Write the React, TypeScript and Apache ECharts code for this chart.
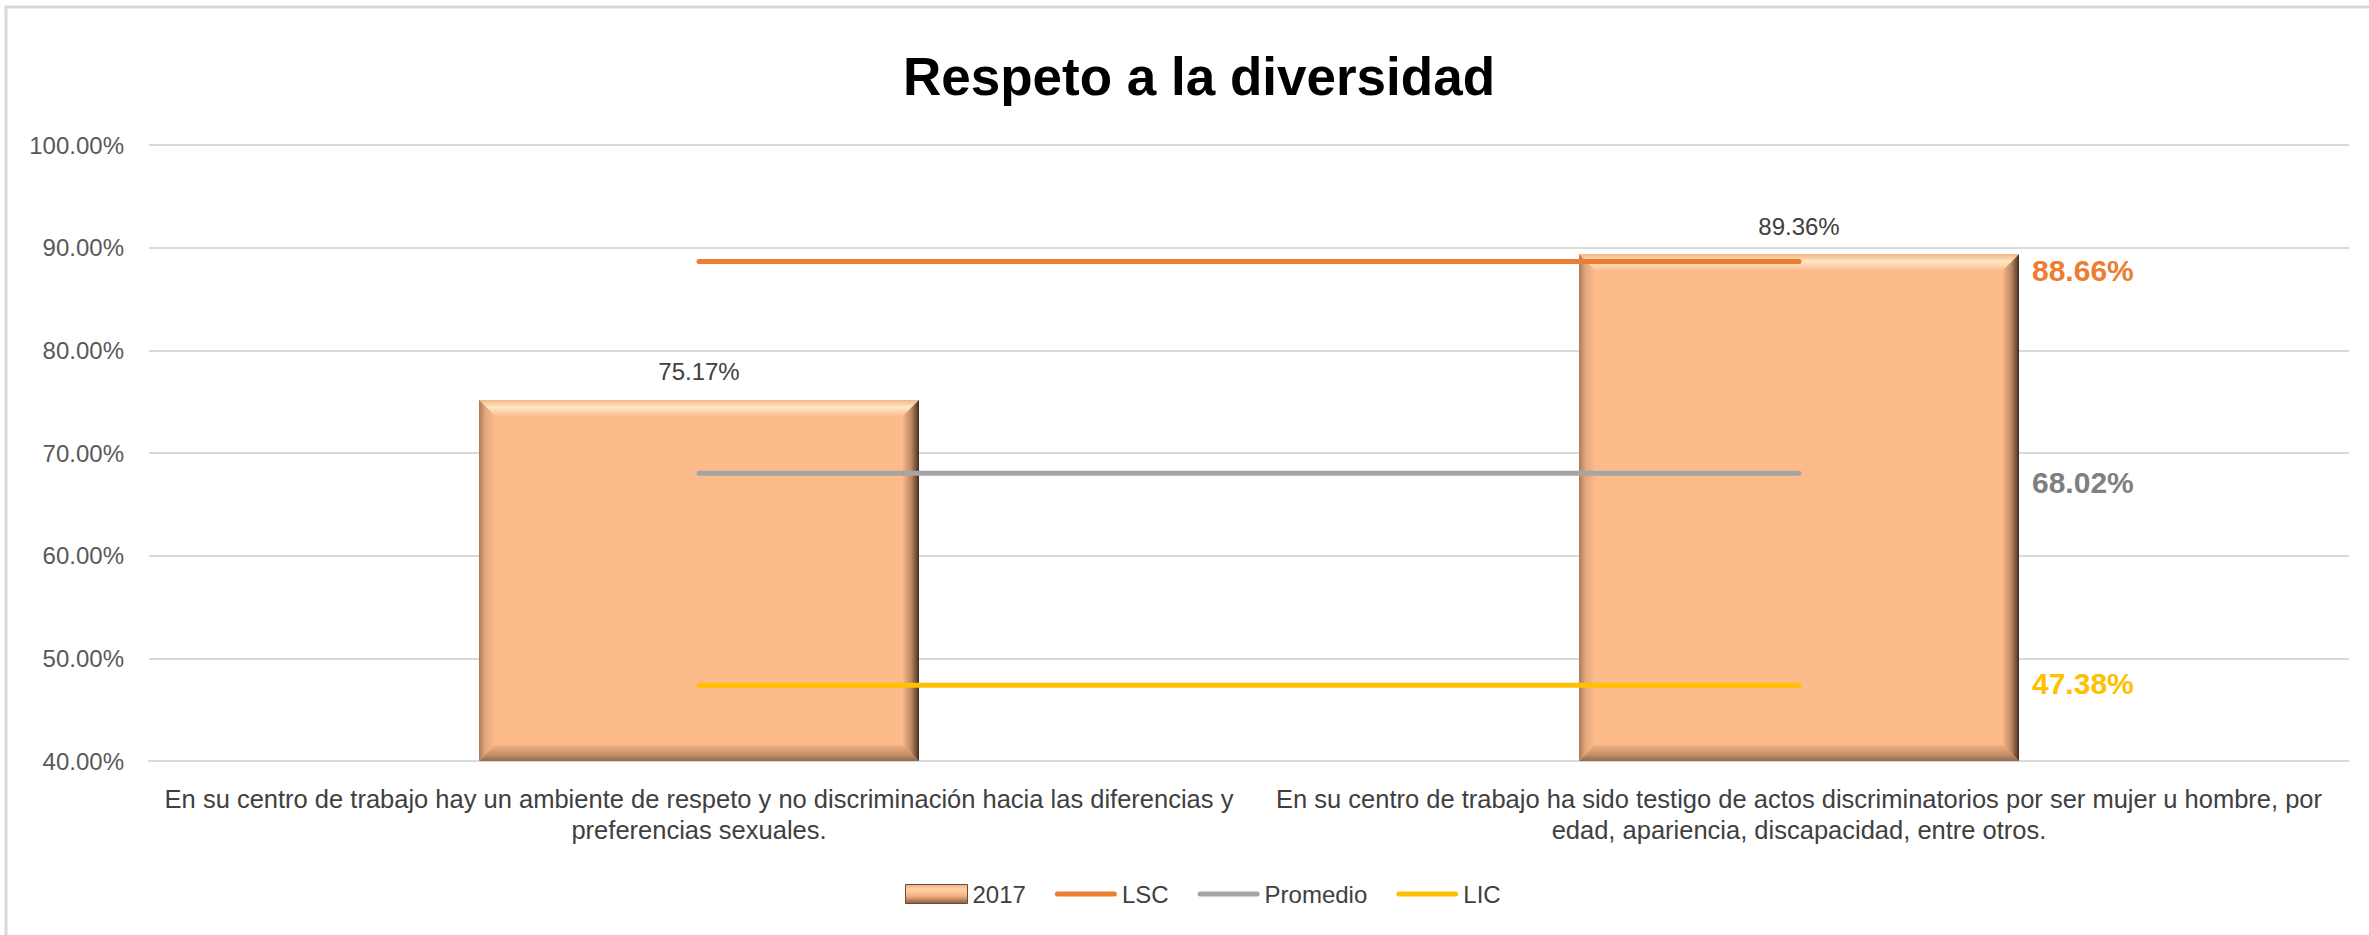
import React, { useEffect, useRef } from "react";
import * as echarts from "echarts";

const title = "Respeto a la diversidad";
const categories = [
  "En su centro de trabajo hay un ambiente de respeto y no discriminación hacia las diferencias y\npreferencias sexuales.",
  "En su centro de trabajo ha sido testigo de actos discriminatorios por ser mujer u hombre, por\nedad, apariencia, discapacidad, entre otros.",
];
const barName = "2017";
const barValues = [75.17, 89.36];
const lscValue = 88.66;
const promedioValue = 68.02;
const licValue = 47.38;
const yTicks = { min: 40, max: 100, interval: 10 };

const FONT = "'Liberation Sans', Arial, sans-serif";
const LINE_ICON = "path://M2.5,0 h57 a2.5,2.5 0 0 1 0,5 h-57 a2.5,2.5 0 0 1 0,-5 z";

export default function App() {
  const ref = useRef<HTMLDivElement>(null);
  useEffect(() => {
    if (!ref.current) return;
    const chart = echarts.init(ref.current, null, { renderer: "svg" });
    const LG = echarts.graphic.LinearGradient;
    const fmt = (v: number) => v.toFixed(2) + "%";

    const lineSeries = (
      name: string,
      value: number,
      color: string,
      labelColor: string,
      offsetY: number
    ) => ({
      name,
      type: "line",
      data: categories.map(() => value),
      symbol: "none",
      z: 5,
      lineStyle: { color, width: 5, cap: "round" },
      itemStyle: { color },
      endLabel: {
        show: true,
        formatter: () => fmt(value),
        distance: 233,
        offset: [0, offsetY],
        color: labelColor,
        fontSize: 30,
        fontWeight: "bold",
        fontFamily: FONT,
      },
    });

    chart.setOption({
      animation: false,
      backgroundColor: "#ffffff",
      textStyle: { fontFamily: FONT },
      title: {
        text: title,
        left: 1194,
        textAlign: "center",
        top: 45,
        textStyle: { fontSize: 53, fontWeight: "bold", color: "#000000", fontFamily: FONT },
      },
      graphic: [
        {
          type: "rect",
          shape: { x: 6, y: 7, width: 2500, height: 1100 },
          style: { fill: "none", stroke: "#D9D9D9", lineWidth: 3 },
          silent: true,
          z: -1,
        },
      ],
      grid: { left: 149, right: 20, top: 145, bottom: 174, containLabel: false },
      legend: {
        left: 900,
        top: 877,
        itemWidth: 62,
        itemHeight: 19,
        itemGap: 29,
        symbolKeepAspect: true,
        textStyle: { fontSize: 24, color: "#404040", fontFamily: FONT },
        data: [
          {
            name: barName,
            icon: "rect",
            itemStyle: {
              color: new LG(0, 0, 0, 1, [
                { offset: 0, color: "#E9AE82" },
                { offset: 0.25, color: "#FFD2A8" },
                { offset: 0.6, color: "#F5B184" },
                { offset: 1, color: "#8A5E40" },
              ]),
              borderColor: "#6E4A31",
              borderWidth: 1,
            },
          },
          { name: "LSC", icon: LINE_ICON, itemStyle: { color: "#ED7D31" } },
          { name: "Promedio", icon: LINE_ICON, itemStyle: { color: "#A5A5A5" } },
          { name: "LIC", icon: LINE_ICON, itemStyle: { color: "#FFC000" } },
        ],
      },
      xAxis: {
        type: "category",
        data: categories,
        axisLine: { show: true, lineStyle: { color: "#D9D9D9", width: 2 } },
        axisTick: { show: false },
        axisLabel: {
          margin: 22,
          fontSize: 25.5,
          lineHeight: 31,
          color: "#404040",
          fontFamily: FONT,
          interval: 0,
          align: "center",
        },
      },
      yAxis: {
        type: "value",
        min: yTicks.min,
        max: yTicks.max,
        interval: yTicks.interval,
        axisLine: { show: false },
        axisTick: { show: false },
        splitLine: { lineStyle: { color: "#D9D9D9", width: 2 } },
        axisLabel: {
          formatter: (v: number) => fmt(v),
          fontSize: 24,
          color: "#595959",
          margin: 25,
          fontFamily: FONT,
        },
      },
      series: [
        {
          name: barName,
          type: "custom",
          z: 2,
          itemStyle: { color: "#FDBB8C" },
          encode: { x: 0, y: 1 },
          data: barValues.map((v, i) => [i, v]),
          renderItem: (params: any, api: any) => {
            const xi = api.value(0);
            const v = api.value(1);
            const top = api.coord([xi, v]);
            const base = api.coord([xi, yTicks.min]);
            const w = api.size([1, 0])[0] * 0.4;
            const l = top[0] - w / 2;
            const r = l + w;
            const t = top[1];
            const b = base[1];
            const d = 16;
            return {
              type: "group",
              children: [
                {
                  type: "rect",
                  shape: { x: l, y: t, width: w, height: b - t },
                  style: { fill: "#FDBB8C" },
                },
                {
                  type: "polygon",
                  shape: { points: [[l, t], [r, t], [r - d, t + d], [l + d, t + d]] },
                  style: {
                    fill: new LG(0, 0, 0, 1, [
                      { offset: 0, color: "#F2B587" },
                      { offset: 0.45, color: "#FFE7C3" },
                      { offset: 1, color: "#FDBF90" },
                    ]),
                  },
                },
                {
                  type: "polygon",
                  shape: { points: [[l, t], [l + d, t + d], [l + d, b - d], [l, b]] },
                  style: {
                    fill: new LG(0, 0, 1, 0, [
                      { offset: 0, color: "#A97B5B" },
                      { offset: 0.4, color: "#E4A77C" },
                      { offset: 1, color: "#FABA8B" },
                    ]),
                  },
                },
                {
                  type: "polygon",
                  shape: { points: [[l, b], [r, b], [r - d, b - d], [l + d, b - d]] },
                  style: {
                    fill: new LG(0, 0, 0, 1, [
                      { offset: 0, color: "#F0B083" },
                      { offset: 0.6, color: "#C58F68" },
                      { offset: 1, color: "#94694B" },
                    ]),
                  },
                },
                {
                  type: "polygon",
                  shape: { points: [[r, t], [r, b], [r - d, b - d], [r - d, t + d]] },
                  style: {
                    fill: new LG(0, 0, 1, 0, [
                      { offset: 0, color: "#F4B487" },
                      { offset: 0.5, color: "#C08A64" },
                      { offset: 0.85, color: "#6E4C35" },
                      { offset: 1, color: "#3A281C" },
                    ]),
                  },
                },
                {
                  type: "text",
                  x: top[0],
                  y: t - 28,
                  style: {
                    text: fmt(v),
                    textAlign: "center",
                    textVerticalAlign: "middle",
                    fontSize: 24,
                    fontFamily: FONT,
                    fill: "#404040",
                  },
                },
              ],
            };
          },
        },
        lineSeries("LSC", lscValue, "#ED7D31", "#ED7D31", 9),
        lineSeries("Promedio", promedioValue, "#A5A5A5", "#7F7F7F", 9),
        lineSeries("LIC", licValue, "#FFC000", "#FFC000", -2),
      ],
    });
    return () => chart.dispose();
  }, []);
  return (
    <div
      ref={ref}
      style={{ position: "absolute", left: 0, top: 0, width: 2369, height: 935 }}
    />
  );
}
